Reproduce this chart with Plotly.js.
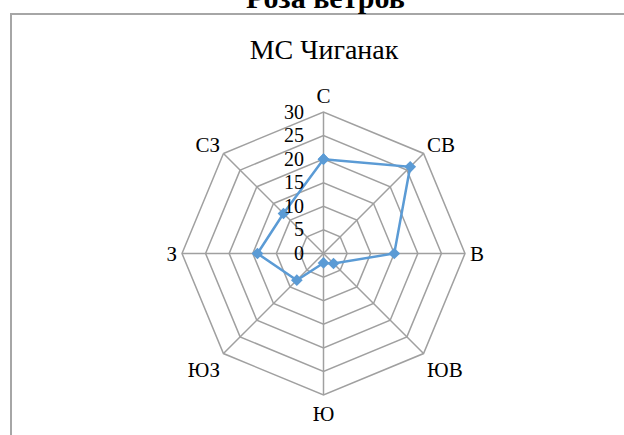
<!DOCTYPE html>
<html>
<head>
<meta charset="utf-8">
<script src="https://cdn.plot.ly/plotly-3.0.1.min.js"></script>
<style>
html,body{margin:0;padding:0;background:#fff;}
#chart{width:624px;height:435px;}
</style>
</head>
<body>
<div id="chart"></div>
<script>
const directions = ['С', 'СВ', 'В', 'ЮВ', 'Ю', 'ЮЗ', 'З', 'СЗ'];
const frequency = [20, 26, 15, 3, 2, 8, 14, 12];
const radialTicks = [0, 5, 10, 15, 20, 25, 30];
const mainTitle = 'Роза ветров';
const chartTitle = 'МС Чиганак';

const W = 624, H = 435;
const cx = 323.5, cy = 253.5, R = 141.5;

const trace = {
  type: 'scatterpolar',
  r: frequency.concat([frequency[0]]),
  theta: directions.concat([directions[0]]),
  mode: 'lines+markers',
  line: {color: '#5B9BD5', width: 2.5},
  marker: {color: '#5B9BD5', symbol: 'diamond', size: 9},
  hoverinfo: 'skip',
  showlegend: false
};

const layout = {
  width: W, height: H,
  margin: {l: 0, r: 0, t: 0, b: 0},
  paper_bgcolor: '#fff',
  font: {family: 'Liberation Serif', color: '#000'},
  title: {
    text: chartTitle,
    font: {family: 'Liberation Serif', size: 28, color: '#000'},
    x: 324 / W, xref: 'paper', xanchor: 'center',
    y: 1 - 49 / H, yref: 'container', yanchor: 'middle'
  },
  annotations: [{
    text: '<b>' + mainTitle + '</b>',
    xref: 'paper', yref: 'paper',
    x: 325 / W, y: 1 + 2 / H,
    xanchor: 'center', yanchor: 'middle',
    showarrow: false,
    font: {family: 'Liberation Serif', size: 30, color: '#000'}
  }],
  shapes: [{
    type: 'rect', xref: 'paper', yref: 'paper',
    x0: 11 / W, x1: 1.2, y0: -0.2, y1: 1 - 14 / H,
    line: {color: '#a6a6a6', width: 2},
    fillcolor: 'rgba(0,0,0,0)', layer: 'below'
  }],
  polar: {
    domain: {
      x: [(cx - R) / W, (cx + R) / W],
      y: [(H - cy - R) / H, (H - cy + R) / H]
    },
    bgcolor: 'rgba(0,0,0,0)',
    gridshape: 'linear',
    radialaxis: {
      range: [0, 30],
      tickvals: radialTicks,
      ticktext: radialTicks.map(String),
      angle: 90,
      side: 'counterclockwise',
      tickangle: 90,
      ticks: 'outside',
      ticklen: 12,
      tickcolor: 'rgba(0,0,0,0)',
      showline: false,
      gridcolor: '#a0a0a0',
      gridwidth: 1.5,
      tickfont: {family: 'Liberation Serif', size: 20, color: '#000'}
    },
    angularaxis: {
      type: 'category',
      categoryarray: directions,
      direction: 'clockwise',
      rotation: 90,
      showline: true,
      linecolor: '#a0a0a0',
      linewidth: 1.5,
      gridcolor: '#a0a0a0',
      gridwidth: 1.5,
      ticks: '',
      tickfont: {family: 'Liberation Serif', size: 21, color: '#000'}
    }
  }
};

Plotly.newPlot('chart', [trace], layout, {staticPlot: true, displayModeBar: false});
</script>
</body>
</html>
